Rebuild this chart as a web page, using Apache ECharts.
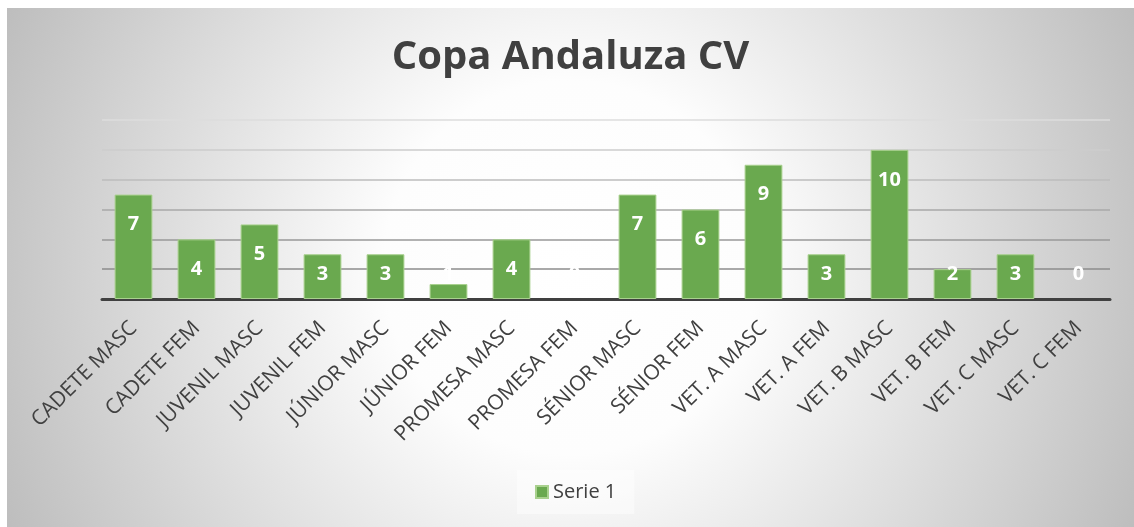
<!DOCTYPE html>
<html lang="es">
<head>
    <meta charset="UTF-8">
    <script src="https://cdn.jsdelivr.net/npm/echarts@6/dist/echarts.min.js"></script>
    <title>Copa Andaluza CV</title>
    <style>
        body{margin:0;background:#fff;}
        #main{position:absolute;left:7px;top:8px;width:1127px;height:519px;}
    </style>
</head>
<body>
<div id="main"></div>
<script type="text/javascript">
    // categorias y valores
    var categorias = ['CADETE MASC', 'CADETE FEM', 'JUVENIL MASC', 'JUVENIL FEM', 'JÚNIOR MASC', 'JÚNIOR FEM',
        'PROMESA MASC', 'PROMESA FEM', 'SÉNIOR MASC', 'SÉNIOR FEM', 'VET. A MASC', 'VET. A FEM',
        'VET. B MASC', 'VET. B FEM', 'VET. C MASC', 'VET. C FEM'];
    var serie1 = [7, 4, 5, 3, 3, 1, 4, 0, 7, 6, 9, 3, 10, 2, 3, 0];
    var yMin = 0, yMax = 12, yPaso = 2;

    var myChart = echarts.init(document.getElementById('main'));

    // etiquetas: arriba dentro de la barra si cabe, si no abajo
    var datos = [];
    for (var i = 0; i < serie1.length; i++) {
        var v = serie1[i];
        var d = {
            value: v,
            label: v >= 4 ? {position: 'insideTop', distance: 20} : {position: 'insideBottom', distance: 15}
        };
        if (v === 0) d.itemStyle = {borderWidth: 0};
        datos.push(d);
    }

    var option = {
        backgroundColor: {
            type: 'radial', x: 0.5, y: 0.5, r: 1.2,
            colorStops: [
                {offset: 0, color: '#ffffff'},
                {offset: 0.3, color: '#fdfdfd'},
                {offset: 1, color: '#bdbdbd'}
            ]
        },
        textStyle: {fontFamily: 'Open Sans'},
        title: {
            text: 'Copa Andaluza CV',
            left: 'center',
            top: 25,
            textStyle: {fontSize: 40, fontWeight: 'bold', color: '#404040', fontFamily: 'Open Sans'}
        },
        legend: {
            bottom: 13,
            left: 510,
            itemWidth: 12,
            itemHeight: 12,
            itemGap: 5,
            padding: [12, 18],
            backgroundColor: 'rgba(255,255,255,0.45)',
            icon: 'rect',
            textStyle: {fontSize: 20, color: '#404040'},
            data: ['Serie 1']
        },
        grid: {left: 95, right: 24, top: 112, bottom: 228},
        xAxis: {
            type: 'category',
            data: categorias,
            axisTick: {show: false},
            axisLine: {lineStyle: {color: '#404040', width: 3}},
            axisLabel: {interval: 0, rotate: 45, color: '#404040', fontSize: 21, margin: 26}
        },
        yAxis: {
            type: 'value',
            min: yMin,
            max: yMax,
            interval: yPaso,
            axisLabel: {show: false},
            axisLine: {show: false},
            axisTick: {show: false},
            splitLine: {
                lineStyle: {
                    width: 1.5,
                    color: ['#404040', '#8c8c8c', '#999999', '#a9a9a9', '#bcbcbc', '#cdcdcd', '#dddddd']
                }
            }
        },
        series: [{
            name: 'Serie 1',
            type: 'bar',
            data: datos,
            barCategoryGap: '40%',
            itemStyle: {color: '#6aa94f', borderColor: '#a9d18e', borderWidth: 1},
            label: {show: true, color: '#ffffff', fontSize: 20, fontWeight: 'bold'}
        }]
    };
    myChart.setOption(option);
</script>
</body>
</html>
